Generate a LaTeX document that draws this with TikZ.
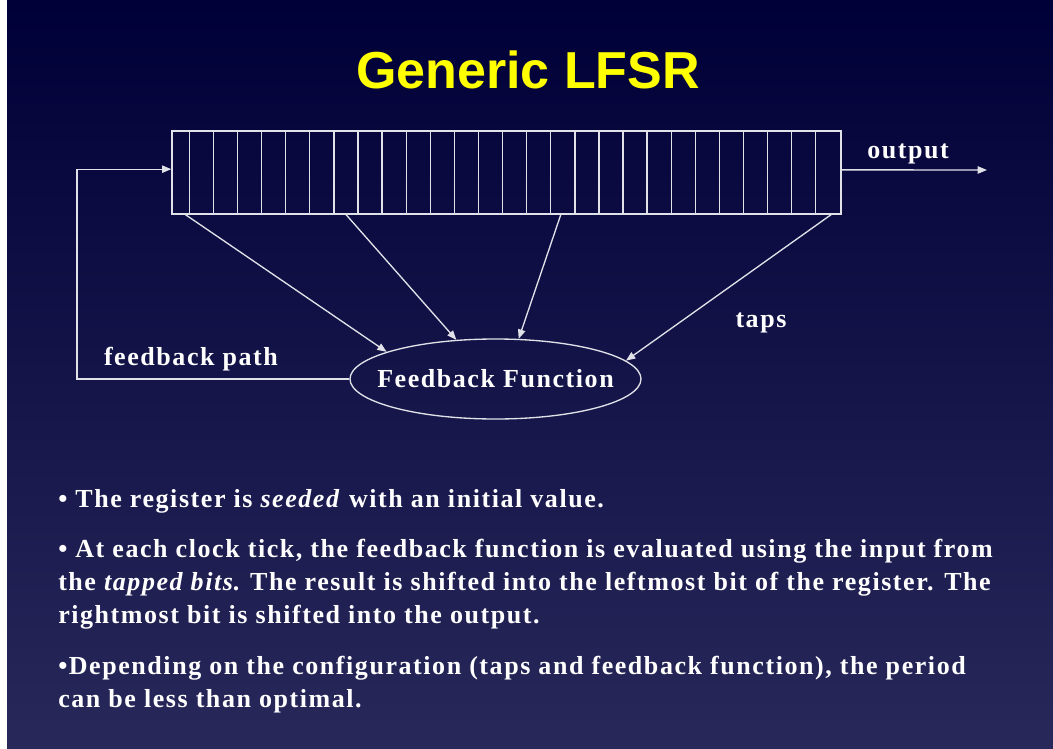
\documentclass[tikz,border=0pt]{standalone}
\usepackage{fontspec}
\setmainfont[LetterSpace=6]{Liberation Serif}
\newfontfamily\titlefont{Liberation Sans}
\usetikzlibrary{arrows.meta,positioning,shapes.geometric}
\definecolor{slidetop}{RGB}{0,0,56}
\definecolor{slidebot}{RGB}{40,40,90}
\definecolor{wirecol}{RGB}{225,225,232}
\definecolor{titleyellow}{RGB}{255,255,0}

\begin{document}
\begin{tikzpicture}[x=0.75pt, y=-0.75pt, >={Triangle[length=7pt,width=5.5pt]},
  every node/.style={text=white, inner sep=0pt, font=\bfseries\fontsize{19.5}{24.75}\selectfont},
  wire/.style={draw=wirecol, line width=1pt},
  bullets/.style={anchor=north west, align=left}]
\fill[white] (0,0) rectangle (1053,749);
\shade[top color=slidetop, bottom color=slidebot] (7,0) rectangle (1053,749);
\node[text=titleyellow, font=\titlefont\bfseries\fontsize{39}{41}\selectfont, anchor=base] (title) at (528,89) {Generic LFSR};
\node[wire, minimum width=501.75pt, minimum height=62.25pt] (reg) at (506.5,172.5) {};
\foreach \i in {0,...,26}
  \draw[wire] ([xshift={13.5pt+18.07pt*\i}]reg.north west) -- ([xshift={13.5pt+18.07pt*\i}]reg.south west);
\node[ellipse, wire, minimum width=218.25pt, minimum height=60pt] (ff) at (495.5,379) {\makebox[0pt]{Feedback Function}};
\coordinate (tap1) at (184.5,214);
\coordinate (tap2) at (345.5,214);
\coordinate (tap3) at (561,214);
\coordinate (tap4) at (832,214);
\coordinate (corner) at (77,379);
\coordinate (out) at (987,170);
\draw[wire,->] (tap1) -- (ff.166);
\draw[wire,->] (tap2) -- (ff.135);
\draw[wire,->] (tap3) -- (ff.60);
\draw[wire,->] (tap4) -- (ff.8);
\draw[wire,->] (ff.west) -- (corner) |- ([yshift=2.5pt]reg.west);
\draw[wire,->] ([yshift=2pt]reg.east) -- (out);
\node[anchor=base] (outlbl) at (908,158) {output};
\node[anchor=base] (taps) at (761,327) {taps};
\node[anchor=base] (fbpath) at (191,365) {feedback path};
\node[anchor=base west] (b1) at (58,507) {\textbullet\ The register is \textit{seeded} with an initial value.};
\node[bullets] (b2) at (58,539) {\textbullet\ At each clock tick, the feedback function is evaluated using the input from\\the \textit{tapped bits}. The result is shifted into the leftmost bit of the register. The\\rightmost bit is shifted into the output.};
\node[bullets] (b3) at (58,656) {\textbullet Depending on the configuration (taps and feedback function), the period\\can be less than optimal.};
\end{tikzpicture}
\end{document}
